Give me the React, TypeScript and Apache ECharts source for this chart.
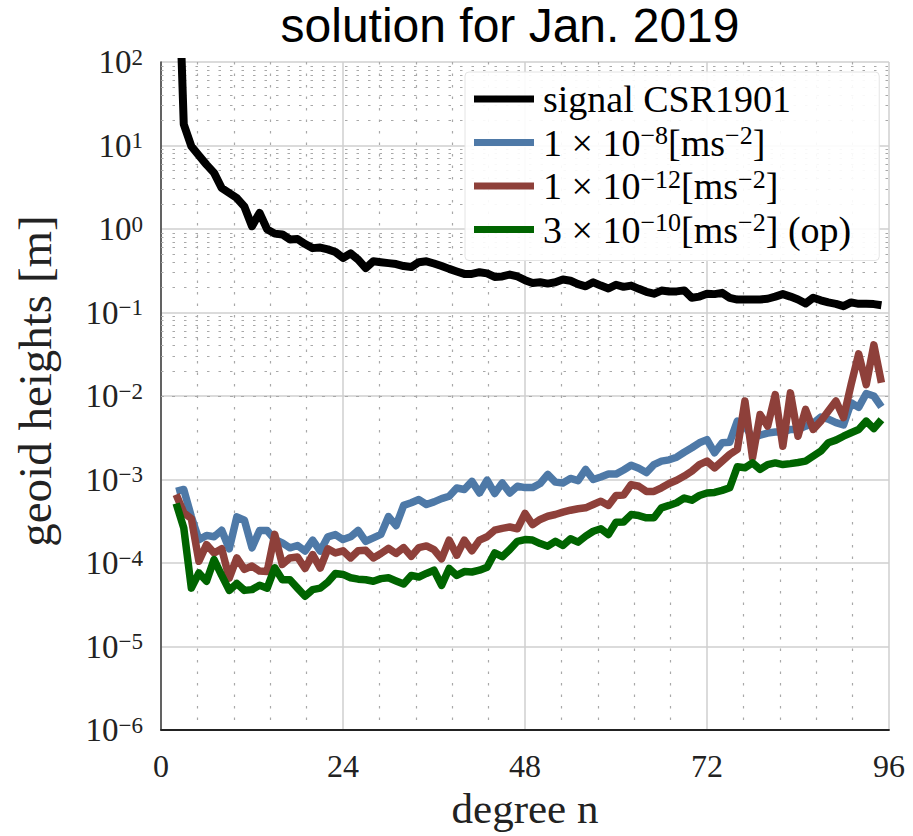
import React, { useEffect, useRef } from "react";
import * as echarts from "echarts";

// spherical-harmonic degree of the first value in every series
const startDegree = 2;

// geoid-height degree amplitudes [m], degrees 2..95
const signalCSR1901 = [
  1e4, 18, 9.8, 7.6, 5.9, 4.7, 3.1, 2.7, 2.35, 1.85,
  1.08, 1.56, 0.99, 0.88, 0.86, 0.75, 0.76, 0.66, 0.59, 0.6,
  0.57, 0.53, 0.45, 0.51, 0.43, 0.34, 0.41, 0.4, 0.39, 0.38,
  0.36, 0.35, 0.4, 0.41, 0.386, 0.36, 0.333, 0.31, 0.29, 0.29,
  0.304, 0.294, 0.267, 0.27, 0.285, 0.27, 0.244, 0.226, 0.23, 0.222,
  0.23, 0.248, 0.24, 0.219, 0.206, 0.23, 0.21, 0.194, 0.215, 0.203,
  0.21, 0.192, 0.177, 0.168, 0.183, 0.178, 0.179, 0.184, 0.15, 0.155,
  0.168, 0.166, 0.172, 0.15, 0.143, 0.143, 0.143, 0.143, 0.146, 0.155,
  0.166, 0.155, 0.143, 0.128, 0.15, 0.14, 0.132, 0.127, 0.119, 0.132,
  0.127, 0.127, 0.126, 0.122,
];

const noise1e8 = [
  7.2e-4, 7.6e-4, 3.6e-4, 1.9e-4, 2.14e-4, 2.06e-4, 2.47e-4, 1.48e-4, 3.57e-4, 3.26e-4,
  1.52e-4, 2.45e-4, 2.45e-4, 1.91e-4, 1.74e-4, 1.52e-4, 1.62e-4, 1.39e-4, 1.88e-4, 1.39e-4,
  2.06e-4, 2.19e-4, 1.91e-4, 2.06e-4, 2.45e-4, 1.82e-4, 2.0e-4, 2.2e-4, 3.6e-4, 2.8e-4,
  4.9e-4, 5.26e-4, 5.75e-4, 5.02e-4, 5.4e-4, 5.9e-4, 6.3e-4, 7.9e-4, 7.6e-4, 9.5e-4,
  6.9e-4, 9.8e-4, 6.8e-4, 9.1e-4, 6.9e-4, 8.3e-4, 8.0e-4, 8.0e-4, 8.95e-4, 1.15e-3,
  9.3e-4, 9.1e-4, 1.03e-3, 9.7e-4, 1.32e-3, 1.0e-3, 1.07e-3, 1.16e-3, 1.16e-3, 1.3e-3,
  1.48e-3, 1.36e-3, 1.21e-3, 1.51e-3, 1.66e-3, 1.72e-3, 1.85e-3, 2.12e-3, 2.4e-3, 2.75e-3,
  3.0e-3, 2.09e-3, 2.75e-3, 2.8e-3, 5.0e-3, 4.4e-3, 3.16e-3, 3.4e-3, 3.6e-3, 3.7e-3,
  3.7e-3, 3.97e-3, 3.97e-3, 4.35e-3, 4.7e-3, 5.6e-3, 5.3e-3, 4.8e-3, 4.5e-3, 8.3e-3,
  7.3e-3, 1.07e-2, 1.0e-2, 7.4e-3,
];

const noise1e12 = [
  6.6e-4, 4.0e-4, 3.4e-4, 1.05e-4, 1.66e-4, 1.32e-4, 1.48e-4, 6.6e-5, 1.15e-4, 8.4e-5,
  9.2e-5, 8.0e-5, 7.9e-5, 2.2e-4, 9.6e-5, 1.15e-4, 1.18e-4, 8.6e-5, 1.26e-4, 8.7e-5,
  1.48e-4, 1.32e-4, 1.4e-4, 1.15e-4, 1.4e-4, 1.42e-4, 1.15e-4, 1.3e-4, 1.5e-4, 1.3e-4,
  1.53e-4, 1.2e-4, 1.53e-4, 1.6e-4, 1.45e-4, 1.12e-4, 1.88e-4, 1.24e-4, 1.88e-4, 1.4e-4,
  1.88e-4, 2.06e-4, 2.47e-4, 2.6e-4, 2.7e-4, 2.57e-4, 3.92e-4, 2.89e-4, 3.32e-4, 3.63e-4,
  3.81e-4, 4.06e-4, 4.29e-4, 4.46e-4, 4.58e-4, 5.02e-4, 5.5e-4, 4.89e-4, 6.43e-4, 6.5e-4,
  8.7e-4, 8.3e-4, 7.2e-4, 7.2e-4, 7.95e-4, 8.95e-4, 9.8e-4, 1.1e-3, 1.26e-3, 1.51e-3,
  1.66e-3, 1.38e-3, 1.66e-3, 2.0e-3, 2.29e-3, 8.7e-3, 1.82e-3, 6.0e-3, 4.36e-3, 1.04e-2,
  2.5e-3, 1.09e-2, 3.3e-3, 6.9e-3, 3.97e-3, 5.0e-3, 6.6e-3, 8.7e-3, 5.5e-3, 1.37e-2,
  3.2e-2, 1.37e-2, 4.1e-2, 1.44e-2,
];

const noise3e10op = [
  5.16e-4, 2.64e-4, 5.0e-5, 7.6e-5, 6.05e-5, 1.1e-4, 7.1e-5, 4.7e-5, 5.7e-5, 4.7e-5,
  4.8e-5, 5.4e-5, 5.0e-5, 8.75e-5, 6.3e-5, 6.3e-5, 5.0e-5, 4.0e-5, 4.8e-5, 5.0e-5,
  5.9e-5, 7.5e-5, 7.3e-5, 6.65e-5, 6.4e-5, 6.3e-5, 6.05e-5, 6.5e-5, 6.65e-5, 6.1e-5,
  5.6e-5, 7.1e-5, 6.8e-5, 7.5e-5, 8.2e-5, 5.4e-5, 8.6e-5, 7.1e-5, 7.9e-5, 7.8e-5,
  8.2e-5, 8.9e-5, 1.32e-4, 1.19e-4, 1.45e-4, 1.82e-4, 1.91e-4, 1.88e-4, 1.71e-4, 1.59e-4,
  1.82e-4, 1.62e-4, 1.95e-4, 1.78e-4, 2.1e-4, 2.4e-4, 2.57e-4, 2.19e-4, 3.08e-4, 3.1e-4,
  3.8e-4, 3.7e-4, 3.48e-4, 3.48e-4, 4.58e-4, 4.89e-4, 5.26e-4, 6.0e-4, 5.65e-4, 6.43e-4,
  6.9e-4, 7.0e-4, 7.4e-4, 7.95e-4, 1.42e-3, 1.38e-3, 1.58e-3, 1.32e-3, 1.51e-3, 1.58e-3,
  1.51e-3, 1.55e-3, 1.6e-3, 1.66e-3, 1.9e-3, 2.18e-3, 2.75e-3, 2.96e-3, 3.3e-3, 3.63e-3,
  3.97e-3, 5.0e-3, 4.07e-3, 5.2e-3,
];

const seriesNames = [
  "signal CSR1901",
  "1 × 10^-8 [ms^-2]",
  "1 × 10^-12 [ms^-2]",
  "3 × 10^-10 [ms^-2] (op)",
];
const legendLabels: Record<string, string> = {
  "signal CSR1901": "{n|signal CSR1901}",
  "1 × 10^-8 [ms^-2]": "{n|1 × 10}{s|−8}{n|[ms}{s|−2}{n|]}",
  "1 × 10^-12 [ms^-2]": "{n|1 × 10}{s|−12}{n|[ms}{s|−2}{n|]}",
  "3 × 10^-10 [ms^-2] (op)": "{n|3 × 10}{s|−10}{n|[ms}{s|−2}{n|] (op)}",
};
const seriesColors = ["#000000", "#4e79a7", "#8e403a", "#006400"];

const xMin = 0;
const xMax = 96;
const xInterval = 24;
const yMin = 1e-6;
const yMax = 1e2;
const minorMantissas = [2, 3, 4, 5, 6, 7, 8, 9];
const decadeExponents = [-6, -5, -4, -3, -2, -1, 0, 1];

const SERIF = "'Liberation Serif', 'Times New Roman', serif";
const SANS = "'Liberation Sans', Arial, sans-serif";

function toPairs(values: number[]) {
  return values.map((v, i) => [startDegree + i, v]);
}

export default function App() {
  const ref = useRef<HTMLDivElement>(null);

  useEffect(() => {
    if (!ref.current) return;
    const chart = echarts.init(ref.current, undefined, { renderer: "svg" });

    const minorY: { yAxis: number }[] = [];
    decadeExponents.forEach((e) =>
      minorMantissas.forEach((m) => minorY.push({ yAxis: m * Math.pow(10, e) }))
    );

    const dataSets = [signalCSR1901, noise1e8, noise1e12, noise3e10op];

    const option: any = {
      animation: false,
      backgroundColor: "#ffffff",
      title: {
        text: "solution for Jan. 2019",
        left: 510,
        top: 1,
        textAlign: "center",
        padding: 0,
        textStyle: {
          fontFamily: SANS,
          fontSize: 48,
          fontWeight: "normal",
          color: "#000",
        },
      },
      grid: { left: 161, right: 24, top: 62, bottom: 106, containLabel: false },
      legend: {
        data: seriesNames,
        orient: "vertical",
        left: 465,
        top: 72,
        padding: [8, 28, 12, 9],
        itemGap: 4.5,
        itemWidth: 60,
        itemHeight: 7,
        icon: "rect",
        backgroundColor: "rgba(255,255,255,0.92)",
        borderColor: "#e4e4e4",
        borderWidth: 1,
        borderRadius: 4,
        selectedMode: false,
        formatter: (name: string) => legendLabels[name] || name,
        textStyle: {
          color: "#000",
          padding: [0, 0, 0, 4],
          rich: {
            n: { fontFamily: SERIF, fontSize: 38, lineHeight: 40, color: "#000" },
            s: {
              fontFamily: SERIF,
              fontSize: 26,
              lineHeight: 14,
              verticalAlign: "top",
              color: "#000",
            },
          },
        },
      },
      xAxis: {
        type: "value",
        min: xMin,
        max: xMax,
        interval: xInterval,
        axisLine: { show: true, onZero: false, lineStyle: { color: "#222", width: 1.8 } },
        axisTick: { show: false },
        axisLabel: {
          fontFamily: SERIF,
          fontSize: 32,
          color: "#222",
          margin: 20,
          showMinLabel: true,
          showMaxLabel: true,
        },
        splitLine: { show: true, lineStyle: { color: "#cfcfcf", width: 1.5 } },
        minorTick: { show: false, splitNumber: 5 },
        minorSplitLine: {
          show: true,
          lineStyle: { color: "#a8a8a8", width: 1.2, type: [2.5, 9] },
        },
        name: "degree n",
        nameLocation: "middle",
        nameGap: 56,
        nameTextStyle: { fontFamily: SERIF, fontSize: 43, color: "#222" },
      },
      yAxis: {
        type: "log",
        logBase: 10,
        min: yMin,
        max: yMax,
        splitNumber: 8,
        axisLine: { show: true, onZero: false, lineStyle: { color: "#444", width: 1.6 } },
        axisTick: { show: false },
        axisLabel: {
          margin: 18,
          formatter: (v: number) => {
            const e = Math.round(Math.log10(v));
            return `{b|10}{s|${e < 0 ? "−" : ""}${Math.abs(e)}}`;
          },
          rich: {
            b: { fontFamily: SERIF, fontSize: 33, lineHeight: 33, color: "#222" },
            s: {
              fontFamily: SERIF,
              fontSize: 23,
              lineHeight: 10,
              verticalAlign: "top",
              color: "#222",
            },
          },
        },
        splitLine: { show: true, lineStyle: { color: "#cfcfcf", width: 1.5 } },
        minorTick: { show: false },
        minorSplitLine: { show: false },
        name: "geoid heights [m]",
        nameLocation: "middle",
        nameGap: 103,
        nameTextStyle: {
          fontFamily: SERIF,
          fontSize: 47,
          color: "#222",
          padding: [0, 0, 0, 30],
        },
      },
      series: [
        {
          name: "__minor_grid",
          type: "line",
          data: [],
          silent: true,
          z: 1,
          markLine: {
            silent: true,
            z: 1,
            symbol: ["none", "none"],
            label: { show: false },
            animation: false,
            lineStyle: { color: "#a8a8a8", width: 1.2, type: [2.5, 9] },
            emphasis: { disabled: true },
            data: minorY,
          },
        },
        ...seriesNames.map((name, i) => ({
          name,
          type: "line",
          data: toPairs(dataSets[i]),
          showSymbol: false,
          symbol: "none",
          color: seriesColors[i],
          z: 3 + i,
          clip: true,
          lineStyle: {
            color: seriesColors[i],
            width: i === 0 ? 8 : 7.5,
            join: "round",
            cap: "butt",
          },
          emphasis: { disabled: true },
        })),
      ],
    };

    chart.setOption(option);
    return () => chart.dispose();
  }, []);

  return (
    <div
      ref={ref}
      style={{ position: "fixed", left: 0, top: 0, width: 913, height: 836, background: "#fff" }}
    />
  );
}
